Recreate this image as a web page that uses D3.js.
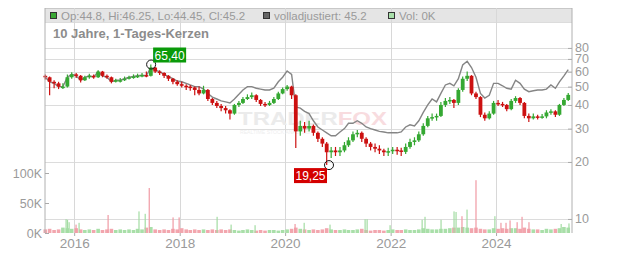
<!DOCTYPE html>
<html>
<head>
<meta charset="utf-8">
<script src="https://cdn.jsdelivr.net/npm/d3@7"></script>
<style>
  body { margin: 0; background: #fff; }
  svg { display: block; font-family: "Liberation Sans", Arial, sans-serif; }
</style>
</head>
<body>
<svg id="chart"></svg>
<script>
const width = 632;
const height = 253;

// monthly candles, Jun 2015 .. May 2025
const startMonth = '2015-06';
const closes = [
  56, 53, 52, 50, 50, 56, 58,
  57, 54, 56, 57, 56, 60, 57, 56, 53, 54, 54, 55,
  56, 56.5, 57, 57.5, 57, 63, 60, 59, 57, 55, 53, 51.5,
  50.5, 50, 49.5, 48, 46, 48, 43, 41, 39.5, 38.5, 37.5, 36,
  40, 41, 43, 44, 45, 42.5, 40.5, 40, 41, 43, 46, 48.5,
  50, 45, 29, 31, 30, 31, 28.5, 26.5, 25, 22.5, 23, 22.5,
  23, 24.5, 26, 28, 28.5, 26.5, 25, 24, 23.5, 23, 22.5, 22.8,
  23.2, 23, 22.6, 24, 25.5, 26, 28, 31, 34, 34.5, 35, 40,
  42, 42.5, 41, 48, 55, 57, 46, 44, 35.5, 34, 36, 41,
  40.5, 40, 38, 42, 43.5, 41, 35, 34, 34.8, 34.5, 34.8, 36.5,
  37, 35.5, 40, 42.5, 45.2
];
const highs = [
  58, 56.5, 54, 53, 52, 58, 59.5,
  59, 57.5, 57, 58.5, 58, 61, 60.5, 58, 56.5, 55, 55.5, 56.5,
  57, 58, 58.5, 59, 60, 65.4, 63.5, 61, 59.5, 57.5, 55.5, 54,
  53, 51.5, 51, 50, 50, 50.5, 48.5, 43.5, 42, 40.5, 39.5, 38,
  40.5, 42, 44, 45.5, 46.5, 45.5, 43, 41.5, 42, 44, 47, 49.5,
  51, 50.5, 45.5, 33, 32.5, 33, 31.5, 29, 27, 25.5, 24, 24,
  24, 25.5, 27, 29, 29.5, 29, 27, 25.5, 25, 24.5, 23.5, 23.8,
  24, 24, 23.8, 25, 26.5, 27, 29, 32, 35, 36, 36, 41.5,
  43.5, 44, 43, 49, 56.5, 60, 57.5, 47, 44.5, 36.5, 37, 42,
  42.5, 41.5, 40.5, 43, 44.5, 44, 41.5, 36, 36, 35.5, 35.8, 37.5,
  38, 37.5, 40.5, 43.5, 46.25
];
const lows = [
  54.5, 45, 49, 48.5, 48.5, 49.5, 55,
  55.5, 52.5, 53.5, 55, 55, 55.5, 56, 55, 52, 52.5, 52.5, 53.5,
  54.5, 55, 55.5, 56, 56, 56.5, 59, 57.5, 55.5, 53.5, 51.5, 50.5,
  49.5, 48, 47.5, 45, 45, 45.5, 42, 40, 38.5, 37, 36, 33.5,
  35.5, 39, 40.5, 42.5, 43, 41.5, 39.5, 39, 39.5, 40.5, 42.5, 45.5,
  47.5, 43, 23.7, 27.5, 28.5, 29, 27.5, 25.5, 24, 19.25, 21, 21.5,
  21.5, 22.5, 24, 25.5, 27, 25.5, 24, 23, 22.5, 22, 21.5, 21.5,
  22, 21.8, 21.5, 22, 23.5, 24.5, 25.5, 27.5, 30.5, 33, 33, 34.5,
  39, 40.5, 38.5, 40, 47, 53.5, 45, 43, 34.5, 33, 33.5, 35.5,
  39.5, 39, 37, 37.5, 41, 40, 34, 32.5, 33.5, 33.5, 33.8, 34,
  35.5, 34.5, 35, 39.5, 42
];
// fully adjusted close ("volladjustiert")
const adjusted = [
  56, 53, 52, 50, 50, 56, 58,
  57, 54, 56, 57, 56, 60, 57, 56, 53, 54, 54, 55,
  56, 56.5, 57, 57.5, 57, 63, 61, 60, 58, 56.5, 55, 53.5,
  53, 52, 51, 50, 50, 48.5, 46, 44, 43, 42, 41.5, 41,
  43, 45.5, 48, 50, 50, 49, 48.5, 48, 48, 49, 53, 56,
  60.5, 58, 39, 38.5, 37, 36, 33, 30.6, 29.5, 28.5, 27.5, 27.5,
  28.8, 30, 32, 32, 33, 32, 30.6, 30, 29.5, 29, 28.8, 28.5,
  28.5, 28.5, 28.8, 30.6, 31.4, 31, 33, 36.5, 40, 43, 41.5, 46,
  51, 52, 50.5, 55, 65, 68, 63, 56, 46, 43.5, 45, 52,
  52, 50.5, 49, 48.5, 54, 52, 48.5, 47, 47.5, 48, 48, 48.5,
  51, 49, 53, 57, 61.5
];
// monthly base volume in K shares
const volumes = [
  6, 7, 5, 6, 9, 8, 7,
  8, 6, 5, 6, 5, 7, 5, 6, 7, 5, 6, 5,
  6, 5, 7, 6, 9, 10, 6, 5, 6, 5, 7, 6,
  8, 6, 5, 6, 5, 6, 5, 6, 5, 6, 5, 6,
  5, 4, 5, 6, 5, 4, 5, 4, 5, 5, 4, 5,
  6, 7, 9, 7, 6, 5, 6, 5, 6, 8, 6, 5,
  5, 6, 5, 5, 6, 7, 5, 4, 5, 5, 4, 5,
  6, 5, 5, 6, 5, 5, 6, 8, 7, 6, 6, 7,
  7, 8, 9, 9, 10, 9, 8, 9, 7, 6, 6, 8,
  7, 8, 7, 8, 8, 7, 9, 7, 6, 6, 5, 7,
  6, 7, 8, 10, 9
];
// single-day volume spikes [date, K shares, up-day]
const spikes = [
  ['2015-11-06', 23, true], ['2015-11-16', 22, true], ['2015-11-27', 18, true],
  ['2016-01-14', 14, false], ['2016-02-04', 17, true], ['2016-08-23', 30, false],
  ['2017-03-25', 36, true], ['2017-05-07', 32, true], ['2017-06-04', 75, false],
  ['2017-11-16', 26, false], ['2017-12-28', 26, false], ['2018-09-17', 27, true],
  ['2018-12-23', 14, true], ['2019-06-07', 13, true], ['2020-03-10', 15, false],
  ['2020-05-12', 17, true], ['2020-11-07', 14, true], ['2021-07-08', 23, true],
  ['2021-07-22', 23, true], ['2021-12-28', 13, true], ['2022-08-07', 22, true],
  ['2022-08-27', 27, true], ['2022-12-16', 22, true], ['2023-03-16', 36, true],
  ['2023-03-30', 35, true], ['2023-05-10', 28, false], ['2023-06-14', 39, true],
  ['2023-08-15', 88, false], ['2023-12-24', 28, true], ['2024-02-04', 17, false],
  ['2024-03-10', 17, false], ['2024-04-07', 21, false], ['2024-05-26', 18, false],
  ['2024-06-29', 27, false], ['2024-08-16', 18, false], ['2025-03-27', 15, true],
  ['2025-05-20', 16, true]
];
const priceTicks = [10, 20, 30, 40, 50, 60, 70, 80];
const volumeTicks = [0, 50000, 100000];
const yearTicks = ['2016', '2018', '2020', '2022', '2024'];
const extremes = [
  { date: '2017-06-17', value: 65.40, label: '65,40', kind: 'high' },
  { date: '2020-10-31', value: 19.25, label: '19,25', kind: 'low' }
];
const legendItems = [
  { text: 'Op:44.8, Hi:46.25, Lo:44.45, Cl:45.2', color: '#3aa835', x: 50 },
  { text: 'volladjustiert: 45.2', color: '#666', x: 263 },
  { text: 'Vol: 0K', color: '#a9dfa9', x: 388 }
];

const parseDay = d3.timeParse('%Y-%m-%d');
const parseMonth = d3.timeParse('%Y-%m');
const green = '#35a832', red = '#cc1111';

const candles = closes.map((c, i) => {
  const m = d3.timeMonth.offset(parseMonth(startMonth), i);
  return {
    date: d3.timeDay.offset(m, 14),
    open: i === 0 ? 57 : closes[i - 1],
    close: c, high: highs[i], low: lows[i],
    adj: adjusted[i], vol: volumes[i] * 1000
  };
});

const pLeft = 45, pRight = 572, pTop = 8, pBottom = 233;

const svg = d3.select('#chart').attr('width', width).attr('height', height);

const x = d3.scaleTime()
  .domain([new Date(2015, 5, 13), new Date(2025, 5, 10)])
  .range([pLeft, pRight]);
const y = d3.scaleLog().domain([8.43, 130]).range([pBottom, pTop]);
const yVol = d3.scaleLinear().domain([0, 100000]).range([pBottom, 173]);

// header band
svg.append('rect')
  .attr('x', pLeft).attr('y', pTop)
  .attr('width', pRight - pLeft).attr('height', 14)
  .attr('fill', '#e5e5e5');
svg.append('line')
  .attr('x1', pLeft).attr('x2', pRight).attr('y1', pTop + 0.5).attr('y2', pTop + 0.5)
  .attr('stroke', '#c8c8c8');

// grid
svg.append('g').selectAll('line')
  .data(priceTicks)
  .join('line')
  .attr('x1', pLeft).attr('x2', pRight)
  .attr('y1', d => Math.round(y(d)) + 0.5).attr('y2', d => Math.round(y(d)) + 0.5)
  .attr('stroke', '#dcdcdc');
svg.append('line')
  .attr('x1', pLeft).attr('x2', pRight).attr('y1', pTop + 14.5).attr('y2', pTop + 14.5)
  .attr('stroke', '#dcdcdc');
svg.append('g').selectAll('line')
  .data(yearTicks)
  .join('line')
  .attr('x1', d => Math.round(x(parseMonth(d + '-01'))) + 0.5)
  .attr('x2', d => Math.round(x(parseMonth(d + '-01'))) + 0.5)
  .attr('y1', pTop).attr('y2', pBottom)
  .attr('stroke', '#d8d8d8');

// watermark
const wm = svg.append('text')
  .attr('x', 238).attr('y', 125)
  .attr('font-size', 18).attr('font-weight', 'bold')
  .attr('textLength', 149).attr('lengthAdjust', 'spacingAndGlyphs');
wm.append('tspan').attr('fill', '#ebebeb').text('TRADER');
wm.append('tspan').attr('fill', '#f8dcdf').text('FOX');
svg.append('text')
  .attr('x', 240).attr('y', 134)
  .attr('font-size', 4.5).attr('fill', '#eeeeee')
  .attr('textLength', 70).attr('lengthAdjust', 'spacingAndGlyphs')
  .text('REALTIME STOCK ANALYSIS');

// volume
const volG = svg.append('g');
volG.selectAll('rect.base')
  .data(candles)
  .join('rect')
  .attr('class', 'base')
  .attr('x', d => x(d.date) - 1.8)
  .attr('width', 3.6)
  .attr('y', d => yVol(d.vol))
  .attr('height', d => pBottom - yVol(d.vol))
  .attr('fill', d => d.close >= d.open ? '#a9dfa9' : '#f2a6ae');
volG.selectAll('rect.spike')
  .data(spikes)
  .join('rect')
  .attr('class', 'spike')
  .attr('x', d => x(parseDay(d[0])) - 0.6)
  .attr('width', 1.2)
  .attr('y', d => yVol(d[1] * 1000))
  .attr('height', d => pBottom - yVol(d[1] * 1000))
  .attr('fill', d => d[2] ? '#a3dca3' : '#f09aa4');

// adjusted line
svg.append('path')
  .datum(candles)
  .attr('fill', 'none')
  .attr('stroke', '#858585')
  .attr('stroke-width', 1.4)
  .attr('d', d3.line().x(d => x(d.date)).y(d => y(d.adj)));

// candles
const cg = svg.append('g').selectAll('g')
  .data(candles)
  .join('g')
  .attr('fill', d => d.close >= d.open ? green : red)
  .attr('stroke', d => d.close >= d.open ? green : red);
cg.append('line')
  .attr('x1', d => x(d.date)).attr('x2', d => x(d.date))
  .attr('y1', d => y(d.high)).attr('y2', d => y(d.low))
  .attr('stroke-width', 1.2);
cg.append('rect')
  .attr('stroke', 'none')
  .attr('x', d => x(d.date) - 1.9)
  .attr('width', 3.8)
  .attr('y', d => y(Math.max(d.open, d.close)))
  .attr('height', d => Math.max(1.5, Math.abs(y(d.open) - y(d.close))));

// axes
const rightAxis = svg.append('g')
  .attr('transform', `translate(${pRight},0)`)
  .call(d3.axisRight(y).tickValues(priceTicks).tickFormat(d3.format('d')).tickSize(-4).tickPadding(3));
const leftAxis = svg.append('g')
  .attr('transform', `translate(${pLeft},0)`)
  .call(d3.axisLeft(yVol).tickValues(volumeTicks).tickFormat(d => d / 1000 + 'K').tickSize(-4).tickPadding(3));
const bottomAxis = svg.append('g')
  .attr('transform', `translate(0,${pBottom})`)
  .call(d3.axisBottom(x).tickValues(yearTicks.map(d => parseMonth(d + '-01'))).tickFormat(d3.timeFormat('%Y')).tickSize(3).tickPadding(2));
bottomAxis.select('.domain').remove();
leftAxis.select('.domain').attr('d', `M0,${pTop}V${pBottom}`);
rightAxis.select('.domain').attr('d', `M0,${pTop}V${pBottom}`);
[rightAxis, leftAxis, bottomAxis].forEach(a => {
  a.selectAll('text').attr('fill', '#9a9a9a').attr('font-size', a === bottomAxis ? 13.5 : 12.5).attr('font-family', '"Liberation Sans", Arial, sans-serif');
  a.selectAll('line').attr('stroke', '#aaa');
  a.select('.domain').attr('stroke', '#b0b0b0');
});

// extremes
extremes.forEach(e => {
  const px = x(parseDay(e.date)), py = y(e.value);
  svg.append('circle')
    .attr('cx', px).attr('cy', py).attr('r', 4.5)
    .attr('fill', 'none').attr('stroke', '#111').attr('stroke-width', 1);
  const bx = e.kind === 'high' ? px + 2 : px - 35;
  const by = e.kind === 'high' ? py - 17 : py + 3;
  svg.append('rect')
    .attr('x', bx).attr('y', by).attr('width', 33).attr('height', 15)
    .attr('fill', e.kind === 'high' ? '#0a9a0a' : '#d40000');
  svg.append('text')
    .attr('x', bx + 16.5).attr('y', by + 12)
    .attr('text-anchor', 'middle')
    .attr('font-size', 12).attr('fill', '#fff')
    .text(e.label);
});

// legend in header band
legendItems.forEach(l => {
  svg.append('rect')
    .attr('x', l.x + 0.5).attr('y', 12.5).attr('width', 6).attr('height', 6)
    .attr('fill', l.color).attr('stroke', '#333');
  svg.append('text')
    .attr('x', l.x + 11).attr('y', 19.5)
    .attr('font-size', 11.5).attr('fill', '#9a9a9a')
    .text(l.text);
});

svg.append('text')
  .attr('x', 53).attr('y', 38)
  .attr('font-size', 13).attr('font-weight', 'bold').attr('fill', '#8c8c8c')
  .text('10 Jahre, 1-Tages-Kerzen');
</script>
</body>
</html>
